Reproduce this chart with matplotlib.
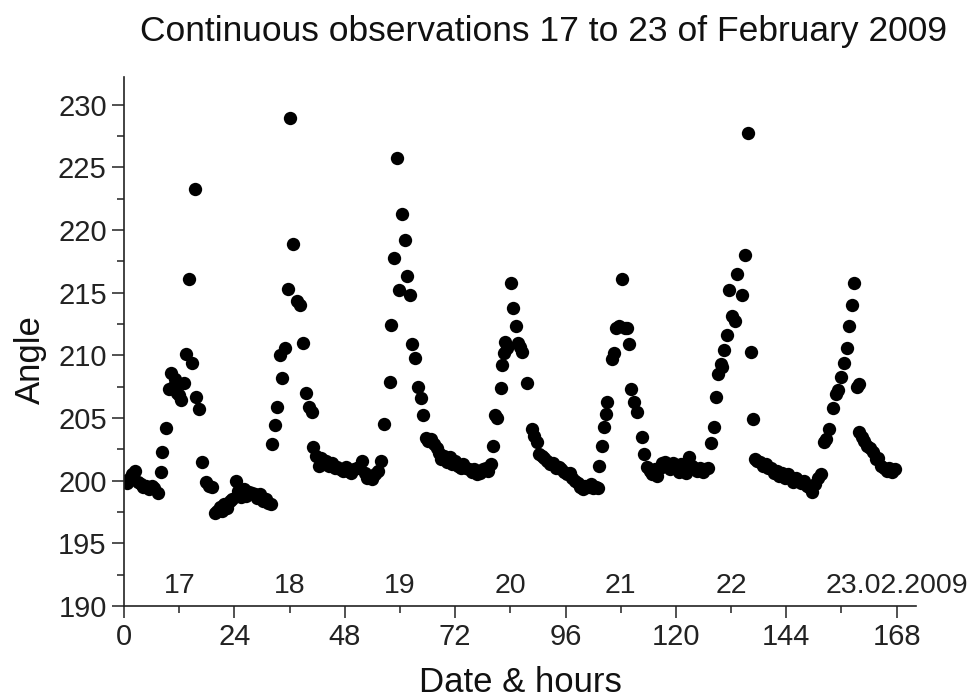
import matplotlib
matplotlib.use("Agg")
import matplotlib.pyplot as plt
from matplotlib.ticker import MultipleLocator

plt.rcParams['font.family'] = ['Liberation Sans', 'DejaVu Sans']

# ---- data (hours since 17 Feb 00:00, angle) ----
hours_d17 = [0.0, 0.6, 1.2, 1.8, 2.5, 3.0, 3.6, 4.2, 4.8, 5.4, 6.0, 6.6, 7.4, 8.0, 8.3, 9.1,
             9.8, 10.2, 10.6, 11.0, 11.5, 12.0, 12.4, 13.0, 13.5, 14.1, 14.8, 15.4, 15.7, 16.3,
             17.0, 17.8, 18.5, 19.2, 19.8, 20.3, 20.8, 21.3, 21.8, 22.4, 23.0, 23.5]
angle_d17 = [200.0, 199.8, 200.2, 200.5, 200.8, 199.9, 199.7, 199.5, 199.6, 199.3, 199.6, 199.4,
             199.0, 200.7, 202.3, 204.2, 207.3, 208.6, 207.5, 208.1, 207.0, 206.8, 206.4, 207.8,
             210.1, 216.1, 209.4, 223.3, 206.7, 205.7, 201.5, 199.9, 199.6, 199.5, 197.4, 197.6,
             197.9, 197.6, 198.1, 197.8, 198.4, 198.5]

hours_d18 = [24.3, 24.8, 25.4, 26.0, 26.6, 27.2, 27.8, 28.4, 29.0, 29.6, 30.2, 30.8, 31.4, 32.0,
             32.2, 32.8, 33.3, 33.9, 34.4, 35.0, 35.7, 36.1, 36.7, 37.6, 38.2, 39.0, 39.6, 40.2,
             40.8, 41.1, 41.7, 42.3, 42.8, 43.4, 44.0, 44.6, 45.2, 45.8, 46.4, 47.0, 47.6]
angle_d18 = [200.0, 199.2, 198.7, 199.3, 198.8, 199.1, 199.0, 198.9, 198.6, 198.9, 198.4, 198.5,
             198.2, 198.1, 202.9, 204.4, 205.9, 210.0, 208.2, 210.6, 215.3, 228.9, 218.9, 214.3,
             214.0, 211.0, 207.0, 205.9, 205.5, 202.7, 202.0, 201.2, 201.8, 201.3, 201.6, 201.2,
             201.4, 201.0, 201.1, 200.9, 200.8]

hours_d19 = [48.2, 48.8, 49.4, 50.0, 50.6, 51.2, 51.7, 52.3, 52.8, 53.4, 54.0, 54.6, 55.2, 55.8,
             56.5, 57.8, 58.0, 58.7, 59.4, 59.8, 60.5, 61.1, 61.5, 62.2, 62.7, 63.3, 64.0, 64.5,
             65.0, 65.6, 66.2, 66.8, 67.4, 68.0, 68.5, 69.0, 69.6, 70.2, 70.8, 71.4]
angle_d19 = [201.1, 200.8, 200.6, 200.9, 201.0, 201.1, 201.6, 200.6, 200.2, 200.3, 200.1, 200.5,
             200.8, 201.6, 204.5, 207.9, 212.4, 217.8, 225.7, 215.2, 221.3, 219.2, 216.3, 214.8,
             210.9, 209.8, 207.5, 206.6, 205.2, 203.4, 203.2, 203.3, 202.9, 202.6, 202.2, 201.7,
             202.0, 201.5, 201.9, 201.3]

hours_d20 = [72.0, 72.6, 73.2, 73.8, 74.4, 75.0, 75.6, 76.2, 76.8, 77.4, 78.0, 78.6, 79.2, 79.8,
             80.2, 80.7, 81.2, 82.0, 82.2, 82.6, 82.9, 83.3, 84.1, 84.6, 85.2, 85.6, 86.0, 86.5,
             87.6, 88.7, 89.2, 89.8, 90.3, 90.8, 91.4, 92.0, 92.6, 93.2, 93.9, 94.5, 95.1, 95.7]
angle_d20 = [201.6, 201.2, 201.0, 201.3, 201.0, 200.9, 200.7, 200.9, 200.5, 200.6, 200.9, 201.0,
             200.8, 201.3, 202.8, 205.2, 205.0, 207.4, 209.2, 210.2, 211.1, 210.6, 215.8, 213.8,
             212.3, 211.0, 210.7, 210.3, 207.8, 204.1, 203.6, 203.1, 202.1, 202.0, 201.8, 201.6,
             201.3, 201.4, 201.0, 201.1, 200.9, 200.7]

hours_d21 = [96.3, 96.9, 97.5, 98.1, 98.7, 99.2, 99.8, 100.3, 100.9, 101.5, 102.0, 102.6, 103.1,
             103.3, 104.0, 104.3, 104.8, 105.0, 106.1, 106.5, 107.0, 107.6, 108.3, 108.9, 109.3,
             109.8, 110.2, 110.9, 111.5, 112.6, 113.0, 113.7, 114.3, 114.9, 115.5, 115.9, 116.5,
             117.0, 117.6, 118.2, 118.8, 119.4]
angle_d21 = [200.5, 200.6, 200.2, 200.0, 199.8, 199.5, 199.3, 199.6, 199.5, 199.7, 199.4, 199.5,
             199.4, 201.2, 202.8, 204.3, 205.3, 206.3, 209.7, 210.2, 212.2, 212.3, 216.1, 212.2,
             212.2, 210.9, 207.3, 206.3, 205.5, 203.5, 202.1, 201.1, 200.8, 200.5, 200.9, 200.4,
             201.0, 201.4, 201.5, 201.2, 200.9, 201.4]

hours_d22 = [120.0, 120.6, 121.2, 121.8, 122.3, 122.8, 123.4, 124.0, 124.6, 125.2, 125.8, 126.4,
             127.0, 127.6, 128.3, 128.8, 129.2, 129.7, 130.0, 130.4, 131.1, 131.5, 132.2, 132.8,
             133.3, 134.3, 135.0, 135.6, 136.3, 136.7, 137.2, 137.7, 138.3, 138.9, 139.5, 140.1,
             140.7, 141.3, 141.9, 142.5, 143.1, 143.7]
angle_d22 = [201.0, 200.7, 201.3, 200.9, 200.6, 201.9, 201.2, 201.0, 200.8, 201.0, 200.7, 200.9,
             201.0, 203.0, 204.3, 206.7, 208.5, 209.3, 209.1, 210.4, 211.6, 215.2, 213.1, 212.7,
             216.5, 214.8, 218.0, 227.7, 210.3, 204.9, 201.7, 201.6, 201.5, 201.2, 201.3, 201.0,
             201.0, 200.6, 200.8, 200.4, 200.6, 200.2]

hours_d23 = [144.3, 144.9, 145.5, 146.1, 146.7, 147.3, 147.9, 148.5, 149.0, 149.6, 150.2, 150.8,
             151.5, 152.2, 152.7, 153.3, 154.1, 154.8, 155.3, 155.8, 156.5, 157.2, 157.6, 158.3,
             158.7, 159.3, 159.8, 159.9, 160.4, 161.0, 161.6, 162.2, 162.8, 163.4, 164.0, 164.6,
             165.2, 165.8, 166.4, 167.0, 167.6]
angle_d23 = [200.5, 200.3, 199.9, 200.2, 200.0, 199.8, 200.0, 199.6, 199.5, 199.1, 199.7, 200.2,
             200.5, 203.1, 203.3, 204.1, 205.8, 206.9, 207.2, 208.3, 209.4, 210.6, 212.3, 214.0,
             215.8, 207.5, 207.7, 203.9, 203.5, 203.2, 202.8, 202.6, 202.3, 201.7, 201.8, 201.2,
             201.0, 200.8, 201.0, 200.7, 200.9]

day_labels = ["17", "18", "19", "20", "21", "22", "23.02.2009"]
day_label_hours = [12, 36, 60, 84, 108, 132, 168]
x_ticks = [0, 24, 48, 72, 96, 120, 144, 168]

title = "Continuous observations 17 to 23 of February 2009"

# ---- figure ----
W, H = 974, 697
fig = plt.figure(figsize=(W / 100, H / 100), dpi=100)
ax = fig.add_axes([124 / W, 1 - 606 / H, (916 - 124) / W, (606 - 77) / H])

all_hours = hours_d17 + hours_d18 + hours_d19 + hours_d20 + hours_d21 + hours_d22 + hours_d23
all_angle = angle_d17 + angle_d18 + angle_d19 + angle_d20 + angle_d21 + angle_d22 + angle_d23
ax.plot(all_hours, all_angle, linestyle='none', marker='o', markersize=9.6,
        color='black', markeredgewidth=0)

ax.set_xlim(0, 172.2)
ax.set_ylim(190, 232.2)
ax.set_xticks(x_ticks)
ax.xaxis.set_minor_locator(MultipleLocator(12))
ax.yaxis.set_major_locator(MultipleLocator(5))
ax.yaxis.set_minor_locator(MultipleLocator(2.5))

for s in ['top', 'right']:
    ax.spines[s].set_visible(False)
for s in ['left', 'bottom']:
    ax.spines[s].set_linewidth(1.2)
    ax.spines[s].set_color('#222222')

ax.tick_params(axis='both', which='major', direction='out', length=8.5, width=1.1,
               labelsize=21, colors='#222222', pad=4)
ax.tick_params(axis='both', which='minor', direction='out', length=5, width=1.1, colors='#222222')

for lab, hx in zip(day_labels, day_label_hours):
    ax.text(hx, 191.6, lab, ha='center', va='center', fontsize=20.5, color='#222222')

fig.text(543 / W, 1 - 31 / H, title, ha='center', va='center', fontsize=25.5, color='#111111')
fig.text(520 / W, 1 - 682 / H, "Date & hours", ha='center', va='center', fontsize=25, color='#111111')
fig.text(30 / W, 1 - 360 / H, "Angle", ha='center', va='center', rotation=90, fontsize=25,
         color='#111111')

fig.savefig("out.png", dpi=100)
